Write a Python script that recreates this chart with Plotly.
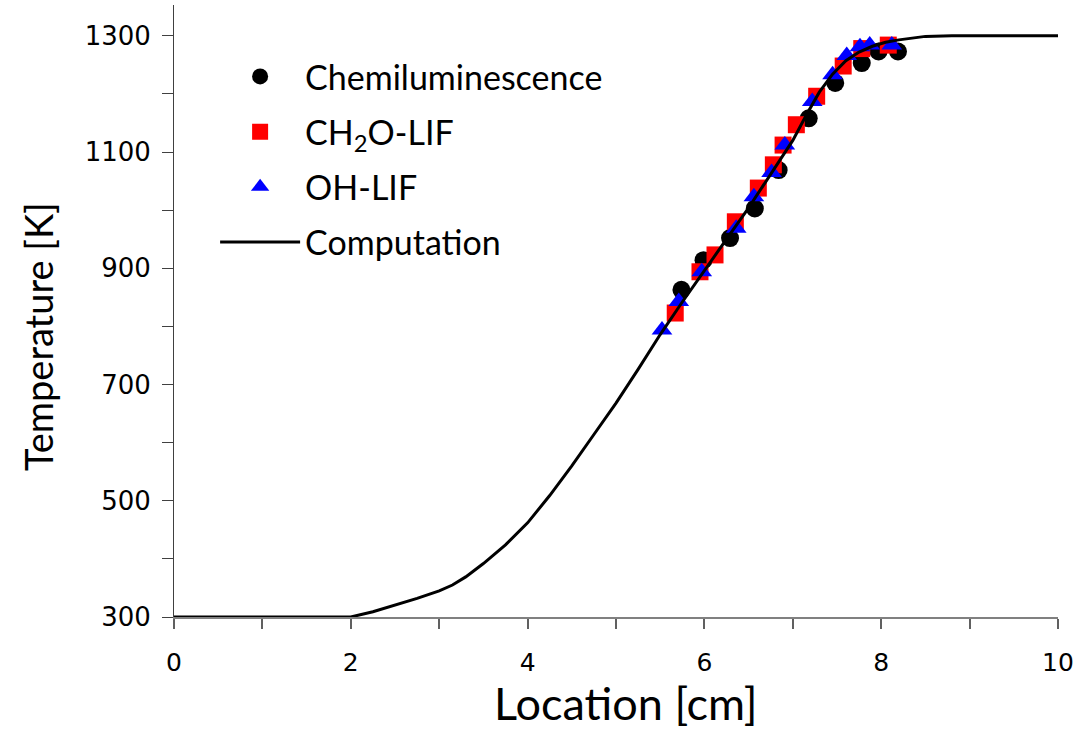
import plotly.graph_objects as go

# Computation curve
comp_x = [0, 2.0, 2.25, 2.5, 2.75, 3.0, 3.15, 3.3, 3.5, 3.75, 4.0, 4.25, 4.5, 4.75, 5.0, 5.25, 5.5,
          5.75, 6.0, 6.25, 6.5, 6.75, 7.0, 7.15, 7.3, 7.45, 7.6, 7.75, 7.9, 8.05, 8.2, 8.5, 8.8, 10]
comp_T = [300, 300, 309, 320, 332, 345, 355, 369, 392, 424, 462, 509, 560, 614, 668, 726, 786,
          842, 897, 950, 1004, 1062, 1120, 1163, 1203, 1234, 1257, 1272, 1282, 1289, 1293, 1299, 1300, 1300]

# Chemiluminescence
chem_x = [5.74, 5.99, 6.29, 6.57, 6.84, 7.18, 7.48, 7.78, 7.97, 8.19]
chem_T = [863, 914, 952, 1003, 1069, 1158, 1219, 1253, 1273, 1273]

# CH2O-LIF
ch2o_x = [5.67, 5.95, 6.12, 6.35, 6.61, 6.78, 6.89, 7.04, 7.27, 7.57, 7.78, 8.08]
ch2o_T = [823, 894, 923, 980, 1038, 1078, 1112, 1147, 1196, 1248, 1278, 1284]

# OH-LIF
oh_x = [5.52, 5.71, 5.97, 6.36, 6.56, 6.76, 6.91, 7.22, 7.45, 7.61, 7.76, 7.87, 8.12]
oh_T = [794, 843, 894, 969, 1023, 1065, 1112, 1187, 1233, 1266, 1281, 1284, 1284]

x_ticks = [0, 2, 4, 6, 8, 10]
y_ticks = [300, 500, 700, 900, 1100, 1300]

fig = go.Figure()
fig.add_trace(go.Scatter(x=chem_x, y=chem_T, mode="markers", name="Chemiluminescence",
                         legendgroup="a",
                         marker=dict(symbol="circle", size=18, color="black"), cliponaxis=False))
fig.add_trace(go.Scatter(x=ch2o_x, y=ch2o_T, mode="markers", name="CH<sub>2</sub>O-LIF",
                         legendgroup="b",
                         marker=dict(symbol="square", size=17, color="#ff0000"), cliponaxis=False))
fig.add_trace(go.Scatter(x=oh_x, y=oh_T, mode="markers", name="OH-LIF",
                         legendgroup="c",
                         marker=dict(symbol="triangle-up", size=18, color="#0000ff"), cliponaxis=False))
fig.add_trace(go.Scatter(x=comp_x, y=comp_T, mode="lines", name="Computation",
                         legendgroup="d",
                         line=dict(color="black", width=3), cliponaxis=False))

fig.update_layout(
    width=1081, height=733,
    margin=dict(l=174, r=23, t=5, b=116),
    paper_bgcolor="white", plot_bgcolor="white",
    showlegend=True,
    legend=dict(x=0.0465, y=0.93, xanchor="left", yanchor="top",
                font=dict(family="Lato", size=34, color="black"),
                bgcolor="rgba(0,0,0,0)", traceorder="grouped", tracegroupgap=8,
                itemwidth=80),
    xaxis=dict(range=[0, 10], tickvals=x_ticks, ticks="outside", ticklen=10, tickwidth=1.5,
               tickcolor="#606060", showline=True, linecolor="#808080", linewidth=2,
               showgrid=False, zeroline=False,
               tickfont=dict(family="DejaVu Sans", size=25, color="black"),
               ticklabelstandoff=12,
               minor=dict(dtick=1, tick0=0, ticks="outside", ticklen=10, tickwidth=1.5, tickcolor="#606060")),
    yaxis=dict(range=[300, 1353], tickvals=y_ticks, ticks="outside", ticklen=11, tickwidth=1,
               tickcolor="#404040", showline=True, linecolor="#404040", linewidth=1,
               showgrid=False, zeroline=False,
               tickfont=dict(family="DejaVu Sans", size=26, color="black"),
               ticklabelstandoff=6,
               minor=dict(dtick=100, tick0=300, ticks="outside", ticklen=11, tickwidth=1, tickcolor="#404040")),
    annotations=[
        dict(text="Location [cm]", xref="paper", yref="paper", x=0.511, y=-0.14,
             xanchor="center", yanchor="middle", showarrow=False,
             font=dict(family="Lato", size=45, color="black")),
        dict(text="Temperature [K]", xref="paper", yref="paper", x=-0.1538, y=0.4575,
             xanchor="center", yanchor="middle", showarrow=False, textangle=-90,
             font=dict(family="Lato", size=38, color="black")),
    ],
)

fig.write_html("out.html")
